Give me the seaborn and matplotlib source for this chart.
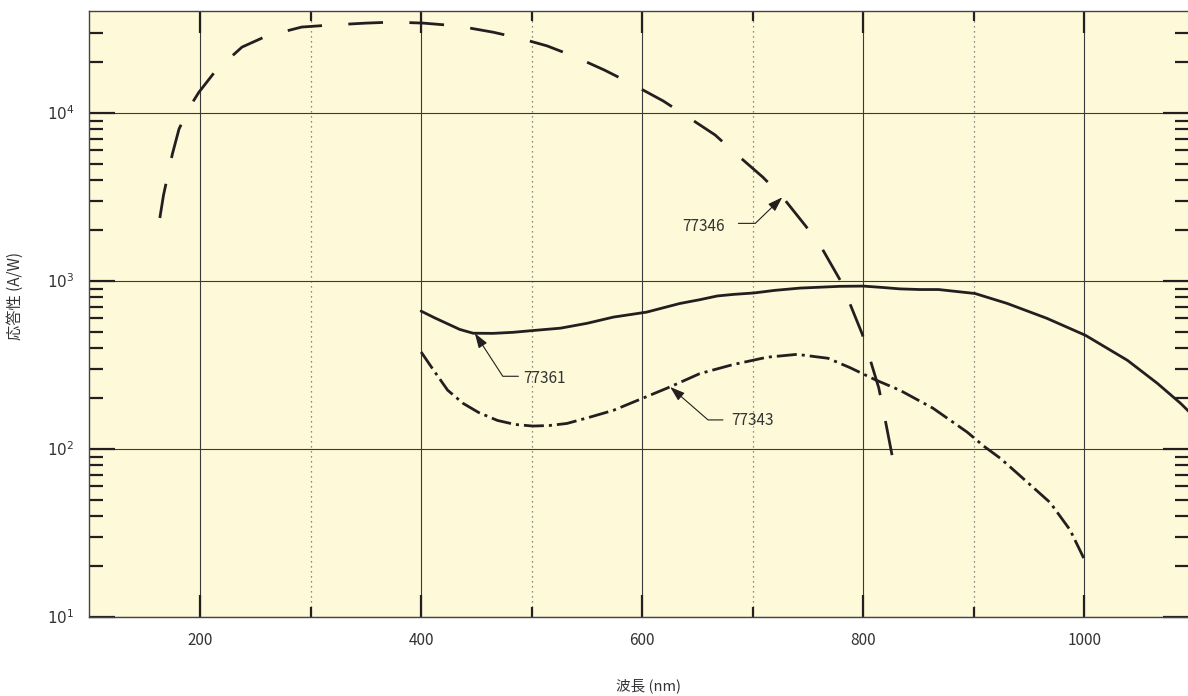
import matplotlib
matplotlib.use("Agg")
import matplotlib.pyplot as plt
from matplotlib.ticker import FixedLocator, NullFormatter
import pandas as pd
import seaborn as sns

# --- data ---
wl_77346 = [160, 167, 175, 181, 190, 199, 214, 238, 260, 292, 318, 350, 375, 402, 433,
            465, 489, 514, 538, 566, 589, 619, 640, 666, 684, 709, 727, 748, 762, 779,
            788, 799, 806, 814, 819, 826]
resp_77346 = [1680, 3250, 5700, 8030, 10700, 13300, 17800, 24700, 28700, 32500, 33400,
              34300, 34800, 34300, 33000, 30300, 27900, 25100, 21800, 18000, 15100,
              11800, 9600, 7400, 5780, 4160, 3160, 2120, 1590, 1014, 730, 484, 344, 231,
              159, 92]

wl_77361 = [400, 412, 423, 435, 447, 465, 483, 505, 526, 550, 574, 604, 634, 652, 668,
            683, 701, 720, 743, 779, 800, 818, 833, 851, 868, 901, 930, 966, 1001, 1039,
            1066, 1087, 1095]
resp_77361 = [662, 605, 560, 515, 489, 488, 495, 510, 524, 560, 610, 653, 735, 774, 815,
              833, 849, 880, 908, 930, 933, 915, 898, 890, 890, 843, 736, 600, 475, 337,
              246, 187, 166]

wl_77343 = [400, 412, 424, 438, 452, 469, 485, 501, 516, 532, 553, 574, 600, 625, 652,
            682, 713, 740, 768, 788, 811, 833, 863, 894, 909, 924, 939, 969, 987, 1000]
resp_77343 = [378, 290, 224, 187, 165, 148, 140, 137, 138, 142, 155, 170, 200, 234, 281,
              318, 352, 366, 347, 305, 258, 224, 175, 126, 104, 88, 72, 48, 33, 22]

series_names = ["77346", "77361", "77343"]

x_ticks = [200, 400, 600, 800, 1000]
x_tick_labels = ["200", "400", "600", "800", "1000"]
x_minor = [300, 500, 700, 900]
y_ticks = [10, 100, 1000, 10000]
y_tick_labels = ["$10^{1}$", "$10^{2}$", "$10^{3}$", "$10^{4}$"]
y_minor = [m * d for d in (10, 100, 1000) for m in range(2, 10)] + [20000, 30000]

# label anchors: (text pos, leader start, arrow tip, angle of the slanted leg)
labels = {
    "77346": ((636, 2120), (687, 2204), (726.7, 3150), 44),
    "77361": ((492, 264), (488, 271), (448.6, 489), 123),
    "77343": ((680.5, 147), (673, 149), (625.3, 234), 139),
}

ink = "#231f20"

sns.set_style("white")
plt.rcParams["font.family"] = ["Liberation Sans Narrow", "Noto Sans CJK JP", "DejaVu Sans"]
plt.rcParams["mathtext.fontset"] = "custom"
plt.rcParams["mathtext.rm"] = "Liberation Sans Narrow"
plt.rcParams["mathtext.it"] = "Liberation Sans Narrow"

# the dashed curve is drawn from its red end so a dash lands on both ends
df = pd.concat([
    pd.DataFrame({"wl": wl_77346[::-1], "resp": resp_77346[::-1], "series": "77346"}),
    pd.DataFrame({"wl": wl_77361, "resp": resp_77361, "series": "77361"}),
    pd.DataFrame({"wl": wl_77343, "resp": resp_77343, "series": "77343"}),
], ignore_index=True)

fig = plt.figure(figsize=(11.88, 6.96), dpi=100)
ax = fig.add_axes([0.0753, 0.1135, 0.9259, 0.8707])
ax.set_facecolor("#fef9d8")

sns.lineplot(
    data=df, x="wl", y="resp", hue="series", style="series",
    palette={s: ink for s in series_names},
    dashes={"77346": (12.5, 9.5), "77361": "", "77343": (7.2, 1.8, 1.1, 1.8)},
    linewidth=2.0, sort=False, estimator=None, legend=False, ax=ax,
)

ax.set_yscale("log")
ax.set_xlim(100, 1095)
ax.set_ylim(10, 4.05e4)

ax.xaxis.set_major_locator(FixedLocator(x_ticks))
ax.set_xticklabels(x_tick_labels)
ax.xaxis.set_minor_locator(FixedLocator(x_minor))
ax.yaxis.set_major_locator(FixedLocator(y_ticks))
ax.set_yticklabels(y_tick_labels)
ax.yaxis.set_minor_locator(FixedLocator(y_minor))
ax.yaxis.set_minor_formatter(NullFormatter())

ax.grid(True, which="major", color="#3a3a3a", linewidth=0.8)
ax.xaxis.grid(True, which="minor", color="#666666", linewidth=0.9, linestyle=(0, (1, 3)))
ax.yaxis.grid(False, which="minor")
ax.set_axisbelow(True)

ax.tick_params(which="both", direction="in", top=True, right=True, left=True, bottom=True,
               color=ink, width=1.6, labelsize=11, labelcolor="#333333", pad=11)
ax.tick_params(axis="y", which="major", length=19)
ax.tick_params(axis="y", which="minor", length=10)
ax.tick_params(axis="x", which="major", length=16)
ax.tick_params(axis="x", which="minor", length=7)

for sp in ax.spines.values():
    sp.set_color("#444444")
    sp.set_linewidth(1.0)

ax.set_xlabel("波長 (nm)", fontsize=10.5, color="#333333")
ax.set_ylabel("応答性 (A/W)", fontsize=11, color="#333333")
ax.xaxis.set_label_coords(0.5086, -0.102)
ax.yaxis.set_label_coords(-0.0595, 0.53)

for name, (txt, start, tip, ang) in labels.items():
    ax.text(txt[0], txt[1], name, ha="left", va="center", fontsize=11, color="#333333")
    ax.annotate(
        "", xy=tip, xytext=start,
        arrowprops=dict(arrowstyle="-|>,head_length=0.9,head_width=0.3", color=ink,
                        lw=0.8, shrinkA=0, shrinkB=0, mutation_scale=10,
                        connectionstyle=f"angle,angleA=0,angleB={ang},rad=0"),
    )

fig.savefig("out.png", dpi=100)
